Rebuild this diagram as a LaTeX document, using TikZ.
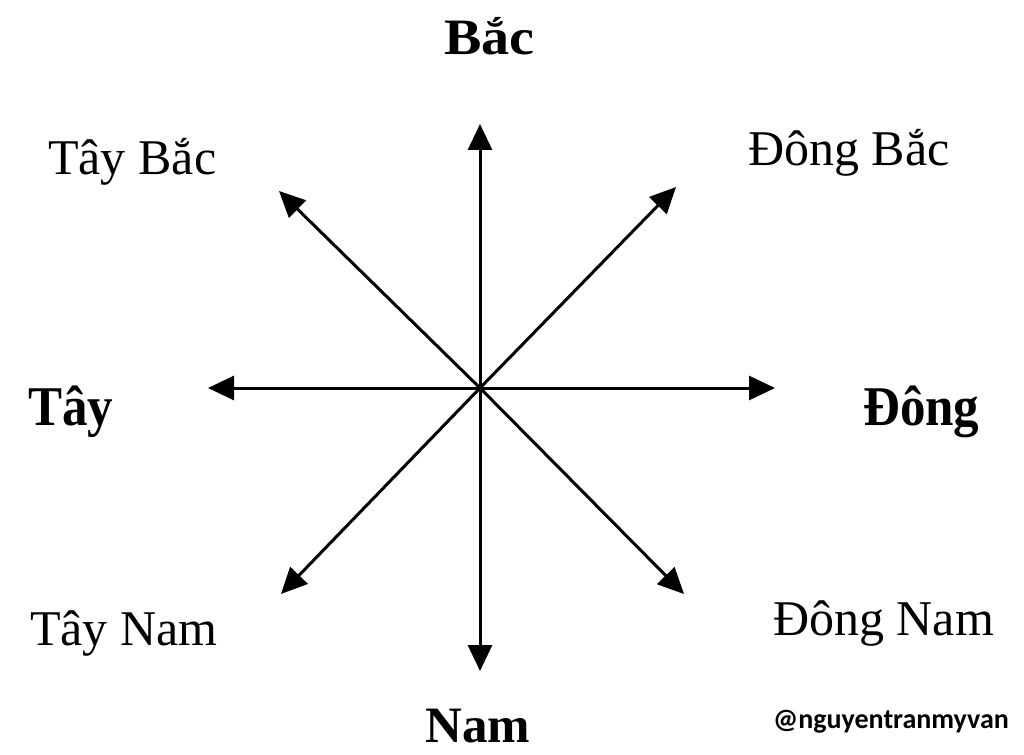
\documentclass[tikz,border=0pt]{standalone}
\usepackage{fontspec}
\setmainfont{Liberation Serif}
\newfontfamily\wmfont{Carlito}
\usetikzlibrary{arrows.meta}
\begin{document}
\begin{tikzpicture}[x=1pt,y=-1pt,
  dirarrow/.style={line width=3pt,-{Triangle[length=26pt,width=24pt]}},
  mainlbl/.style={inner sep=0pt,anchor=base west,font=\fontsize{51}{60}\selectfont\bfseries},
  sublbl/.style={inner sep=0pt,anchor=base west,font=\fontsize{50}{60}\selectfont},
  wmlbl/.style={inner sep=0pt,anchor=base west,font=\fontsize{28}{32}\selectfont\wmfont\bfseries}]
\useasboundingbox[fill=white] (0,0) rectangle (1024,754);
\coordinate (O) at (480,388);
\coordinate (N) at (480,124);
\coordinate (S) at (480,671);
\coordinate (W) at (208,388);
\coordinate (E) at (775,388);
\coordinate (NE) at (676,187);
\coordinate (NW) at (279,191);
\coordinate (SW) at (281,594);
\coordinate (SE) at (684,594);
\foreach \t in {N,S,W,E,NE,NW,SW,SE} \draw[dirarrow] (O) -- (\t);
\node[mainlbl,xscale=1.1] (bac) at (444,55) {Bắc};
\node[mainlbl] (nam) at (425,742) {Nam};
\node[mainlbl,yscale=1.1] (tay) at (28,425) {Tây};
\node[mainlbl,yscale=1.1] (dong) at (863,425) {Đông};
\node[sublbl] (taybac) at (48,175) {Tây Bắc};
\node[sublbl] (dongbac) at (748,165) {Đông Bắc};
\node[sublbl] (taynam) at (30,645) {Tây Nam};
\node[sublbl] (dongnam) at (773,635) {Đông Nam};
\node[wmlbl] (wm) at (773,728) {@nguyentranmyvan};
\end{tikzpicture}
\end{document}
